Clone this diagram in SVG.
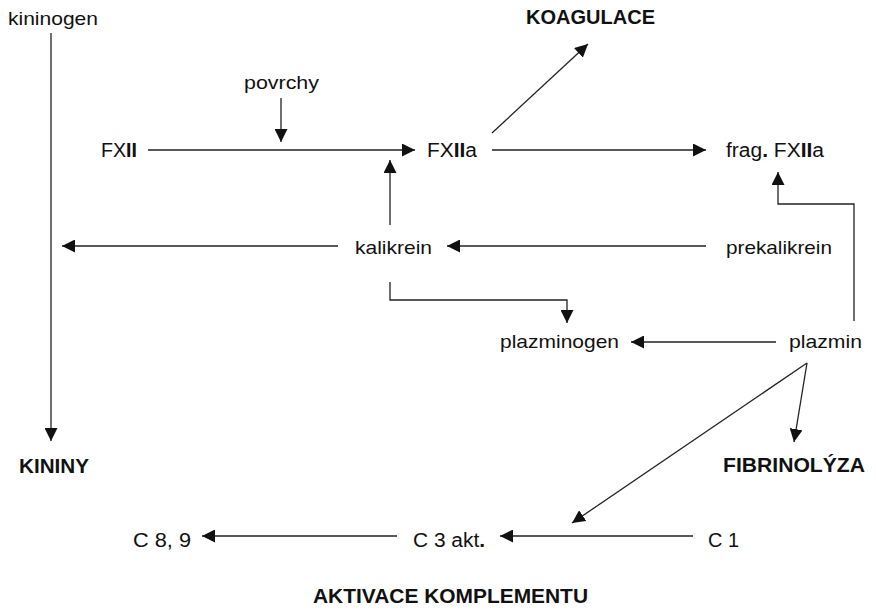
<svg xmlns="http://www.w3.org/2000/svg" width="876" height="610" viewBox="0 0 876 610">
<style>
text{font-family:"Liberation Sans",Arial,sans-serif;fill:#111;}
.n{font-size:19px;}
.c{font-size:19.5px;}
.b{font-size:20px;font-weight:bold;}
.bb{font-weight:bold;}
.ln{fill:none;stroke:#222;stroke-width:1.3;marker-end:url(#ah);}
</style>
<defs>
<marker id="ah" markerUnits="userSpaceOnUse" markerWidth="13" markerHeight="13" refX="12" refY="6" orient="auto" viewBox="0 0 12 12">
<path d="M0,0 L12,6 L0,12 z" fill="#111"/>
</marker>
</defs>
<rect width="876" height="610" fill="#fff"/>
<g id="connectors">
<path class="ln" d="M51,33 V441"/>
<path class="ln" d="M281,98 V142"/>
<path class="ln" d="M148,150 H415"/>
<path class="ln" d="M492,133 L588,44"/>
<path class="ln" d="M492,150 H706"/>
<path class="ln" d="M390,225 V160"/>
<path class="ln" d="M854,321 V204 H778 V172"/>
<path class="ln" d="M706,246 H447"/>
<path class="ln" d="M338,246 H62"/>
<path class="ln" d="M390,282 V300 H567 V323"/>
<path class="ln" d="M776,342 H631"/>
<path class="ln" d="M807,363 L794,442"/>
<path class="ln" d="M807,363 L572,523"/>
<path class="ln" d="M693,536 H500"/>
<path class="ln" d="M397,536 H202"/>
</g>
<g id="kininogen"><text class="n" x="8" y="25" textLength="90" lengthAdjust="spacingAndGlyphs">kininogen</text></g>
<g id="povrchy"><text class="n" x="244" y="89" textLength="75" lengthAdjust="spacingAndGlyphs">povrchy</text></g>
<g id="fxii"><text class="c" x="101" y="157" textLength="36" lengthAdjust="spacingAndGlyphs">FX<tspan class="bb">II</tspan></text></g>
<g id="fxiia"><text class="c" x="427" y="157" textLength="50" lengthAdjust="spacingAndGlyphs">FX<tspan class="bb">II</tspan>a</text></g>
<g id="frag-fxiia"><text class="c" x="726" y="157" textLength="98" lengthAdjust="spacingAndGlyphs">frag<tspan class="bb">.</tspan> FX<tspan class="bb">II</tspan>a</text></g>
<g id="koagulace"><text class="b" x="526" y="24" textLength="129" lengthAdjust="spacingAndGlyphs">KOAGULACE</text></g>
<g id="kalikrein"><text class="n" x="355" y="254" textLength="77" lengthAdjust="spacingAndGlyphs">kalikrein</text></g>
<g id="prekalikrein"><text class="n" x="726" y="254" textLength="106" lengthAdjust="spacingAndGlyphs">prekalikrein</text></g>
<g id="plazminogen"><text class="n" x="500" y="348" textLength="119" lengthAdjust="spacingAndGlyphs">plazminogen</text></g>
<g id="plazmin"><text class="n" x="789" y="348" textLength="73" lengthAdjust="spacingAndGlyphs">plazmin</text></g>
<g id="kininy"><text class="b" x="19" y="473" textLength="70" lengthAdjust="spacingAndGlyphs">KININY</text></g>
<g id="fibrinolyza"><text class="b" x="723" y="472" textLength="142" lengthAdjust="spacingAndGlyphs">FIBRINOLÝZA</text></g>
<g id="c89"><text class="c" x="133" y="547" textLength="58" lengthAdjust="spacingAndGlyphs">C 8, 9</text></g>
<g id="c3akt"><text class="c" x="413" y="547" textLength="72" lengthAdjust="spacingAndGlyphs">C 3 akt<tspan class="bb">.</tspan></text></g>
<g id="c1"><text class="c" x="708" y="547" textLength="31" lengthAdjust="spacingAndGlyphs">C 1</text></g>
<g id="aktivace"><text class="b" x="313" y="603" textLength="275" lengthAdjust="spacingAndGlyphs">AKTIVACE KOMPLEMENTU</text></g>
</svg>
